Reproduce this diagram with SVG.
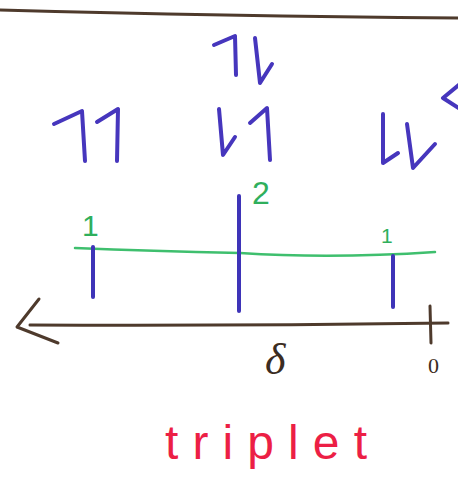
<svg xmlns="http://www.w3.org/2000/svg" width="458" height="477" viewBox="0 0 458 477">
<style>
.spin{fill:none;stroke:#4636bd;stroke-width:4;stroke-linecap:round;stroke-linejoin:round}
.peak{fill:none;stroke:#3e34b8;stroke-width:4;stroke-linecap:round}
.base{fill:none;stroke:#3fbf6e;stroke-width:2.5;stroke-linecap:round}
.axis{fill:none;stroke:#4e3a2c;stroke-width:3;stroke-linecap:round;stroke-linejoin:round}
.int{font-family:"Liberation Sans",sans-serif;fill:#2faf5c}
.lab{font-family:"Liberation Serif",serif;fill:#3b2c22}
.title{font-family:"Liberation Sans",sans-serif;fill:#ec1f45;font-size:48px}
</style>
<rect width="458" height="477" fill="#ffffff"/>
<path class="axis" d="M0,10 Q220,16 458,18" stroke-width="2.5"/>
<g id="state-top">
<path class="spin" d="M214,45 L235,36 L236,75"/>
<path class="spin" d="M255,38 L260,83 L272,64"/>
</g>
<g id="state-upup">
<path class="spin" d="M54,124 L82,111 L85,161"/>
<path class="spin" d="M97,122 L118,109 L117,161"/>
</g>
<g id="state-downup">
<path class="spin" d="M219,109 L223,155 L235,137"/>
<path class="spin" d="M250,123 L267,108 L270,160"/>
</g>
<g id="state-downdown">
<path class="spin" d="M383,114 L383,163 L398,153"/>
<path class="spin" d="M407,124 L413,168 L435,144"/>
<path class="spin" d="M460,84 L443,98 L460,109"/>
</g>
<g id="connectors">
<path class="base" d="M75,248 Q150,251 240,253 Q330,259 435,252"/>
<path class="peak" d="M93,247 L93,297"/>
<path class="peak" d="M239,196 L239,311"/>
<path class="peak" d="M393,256 L393,307"/>
<path class="axis" d="M448,323 Q240,326 30,325"/>
<path class="axis" d="M39,299 L17,327 L58,343"/>
<path class="axis" d="M430,306 L431,343"/>
</g>
<g id="labels">
<text class="int" x="252" y="204" font-size="32">2</text>
<text class="int" x="82" y="236" font-size="30">1</text>
<text class="int" x="381" y="243" font-size="21">1</text>
<text class="lab" x="265" y="374" font-size="44" font-style="italic">δ</text>
<text class="lab" x="428" y="373" font-size="22">0</text>
<text class="title" x="165" y="459" textLength="202" lengthAdjust="spacing">triplet</text>
</g>
</svg>
